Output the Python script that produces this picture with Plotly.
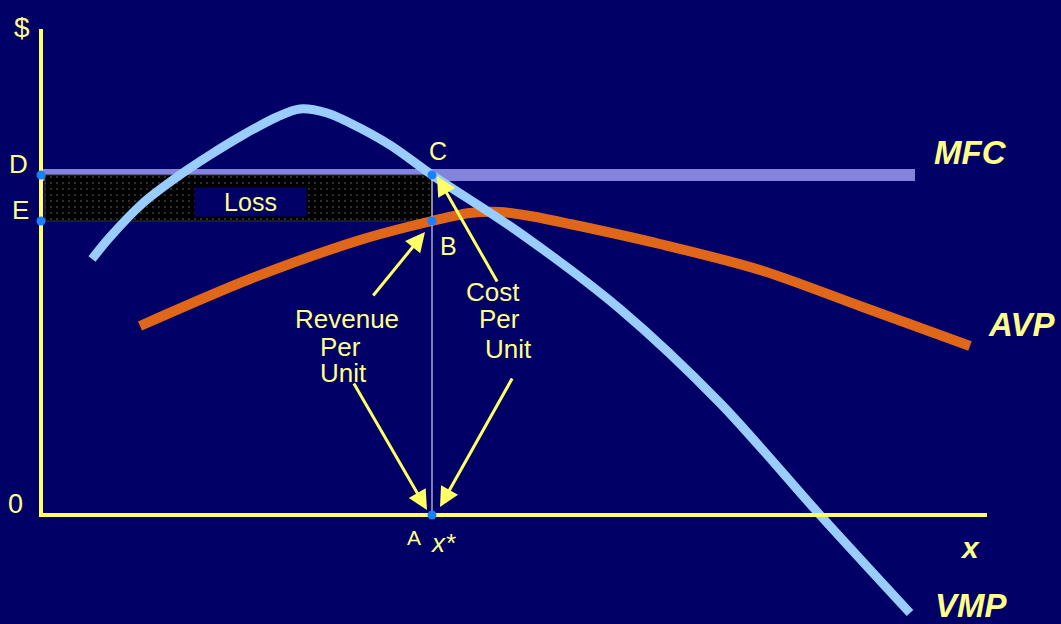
import plotly.graph_objects as go

# ---- data (chart units: x = quantity, y = $) ----
vmp_x = [5.1, 6.9, 10.2, 13.6, 16.9, 20.2, 23.6, 25.9, 28.6, 30.9, 34.9, 39.1, 47.9, 57.9, 67.9, 77.9, 86.9]
vmp_y = [25.6, 27.8, 31.2, 33.8, 36.0, 38.0, 39.8, 40.6, 40.2, 39.2, 37.0, 34.0, 28.2, 20.6, 11.2, 0.0, -9.8]

avp_x = [9.9, 20.9, 31.9, 39.1, 42.9, 45.9, 48.9, 52.9, 61.9, 71.9, 81.9, 92.9]
avp_y = [18.9, 23.6, 27.5, 29.4, 30.2, 30.3, 29.9, 29.1, 27.1, 24.5, 20.9, 16.9]

mfc_x = [0.0, 87.4]
mfc_level = 34.0
avp_at_xstar = 29.4
x_star = 39.1

x_axis_end = 94.6
y_axis_top = 48.6

point_names = ["D", "E", "C", "B", "A"]
point_x = [0.0, 0.0, x_star, x_star, x_star]
point_y = [mfc_level, avp_at_xstar, mfc_level, avp_at_xstar, 0.0]

NAVY = "#000066"
YEL = "#FFFF66"
TXT = "#FFFF88"
FONT = "Arial, 'Liberation Sans', sans-serif"

fig = go.Figure()

# MFC line
fig.add_trace(go.Scatter(x=mfc_x, y=[mfc_level, mfc_level], mode="lines",
                         line=dict(color="#8484DC", width=12), hoverinfo="skip"))

# Loss rectangle (dotted black)
lx0, lx1 = 0.4, x_star
fig.add_trace(go.Scatter(x=[lx0, lx1, lx1, lx0, lx0],
                         y=[avp_at_xstar, avp_at_xstar, mfc_level, mfc_level, avp_at_xstar],
                         mode="lines", fill="toself", fillcolor="black",
                         line=dict(color="#333333", width=1),
                         fillpattern=dict(shape=".", bgcolor="black", fgcolor="#808080",
                                          size=6, solidity=0.08),
                         hoverinfo="skip"))

# AVP
fig.add_trace(go.Scatter(x=avp_x, y=avp_y, mode="lines", line_shape="spline",
                         line=dict(color="#E0661A", width=10, smoothing=0.9), hoverinfo="skip"))
# VMP
fig.add_trace(go.Scatter(x=vmp_x, y=vmp_y, mode="lines", line_shape="spline",
                         line=dict(color="#99CCFF", width=9, smoothing=0.9), hoverinfo="skip"))

# vertical thin line at x*
fig.add_trace(go.Scatter(x=[x_star, x_star], y=[mfc_level, 0], mode="lines",
                         line=dict(color="#FFFFE8", width=1), hoverinfo="skip"))

# axes
fig.add_trace(go.Scatter(x=[0, 0], y=[y_axis_top, -0.2], mode="lines",
                         line=dict(color=YEL, width=4), hoverinfo="skip"))
fig.add_trace(go.Scatter(x=[-0.2, x_axis_end], y=[0, 0], mode="lines",
                         line=dict(color=YEL, width=4), hoverinfo="skip"))

# points
fig.add_trace(go.Scatter(x=point_x, y=point_y, mode="markers",
                         marker=dict(color="#1A80FF", size=9), hoverinfo="skip"))

def txt(x, y, s, size, bold=False, italic=False):
    t = s
    if bold:
        t = "<b>" + t + "</b>"
    if italic:
        t = "<i>" + t + "</i>"
    fig.add_annotation(x=x, y=y, text=t, showarrow=False, xanchor="center", yanchor="middle",
                       font=dict(family=FONT, size=size, color=TXT))

txt(-1.9, 48.8, "$", 28)
txt(-2.3, 35.1, "D", 26)
txt(-2.1, 30.5, "E", 26)
txt(-2.6, 1.1, "0", 27)
txt(39.7, 36.4, "C", 25)
txt(40.7, 26.9, "B", 25)
txt(37.3, -2.2, "A", 21)
txt(40.2, -2.8, "x*", 26, italic=True)
txt(92.9, -3.2, "x", 30, bold=True, italic=True)
txt(92.9, 36.3, "MFC", 33, bold=True, italic=True)
txt(98.0, 19.1, "AVP", 33, bold=True, italic=True)
txt(93.0, -9.0, "VMP", 33, bold=True, italic=True)

txt(30.6, 19.6, "Revenue", 26)
txt(29.9, 16.8, "Per", 26)
txt(30.2, 14.2, "Unit", 26)
txt(45.2, 22.3, "Cost", 26)
txt(45.8, 19.6, "Per", 26)
txt(46.7, 16.6, "Unit", 26)

# Loss label box
fig.add_annotation(x=20.95, y=31.3, text="Loss", showarrow=False, width=111, height=28,
                   bgcolor=NAVY, borderpad=0, xanchor="center", yanchor="middle",
                   font=dict(family=FONT, size=25, color=TXT))

# arrows: (head_x, head_y, tail_x, tail_y)
arrow_head_x = [38.4, 39.6, 38.6, 39.9]
arrow_head_y = [28.3, 33.9, 0.5, 0.8]
arrow_tail_x = [33.1, 45.7, 31.2, 47.2]
arrow_tail_y = [21.8, 23.2, 13.3, 13.8]
for hx, hy, tx, ty in zip(arrow_head_x, arrow_head_y, arrow_tail_x, arrow_tail_y):
    fig.add_annotation(x=hx, y=hy, ax=tx, ay=ty, axref="x", ayref="y", xref="x", yref="y",
                       text="", showarrow=True, arrowhead=2, arrowsize=1.3, arrowwidth=3,
                       arrowcolor=YEL, standoff=0)

fig.update_layout(
    width=1061, height=624,
    margin=dict(l=0, r=0, t=0, b=0),
    paper_bgcolor=NAVY, plot_bgcolor=NAVY,
    showlegend=False,
    xaxis=dict(range=[-4.1, 102.0], visible=False, fixedrange=True),
    yaxis=dict(range=[-10.9, 51.5], visible=False, fixedrange=True),
)

fig.write_html("out.html", config={"displayModeBar": False},
               post_script="document.body.style.margin='0';document.body.style.background='#000066';document.body.style.overflow='hidden';")
